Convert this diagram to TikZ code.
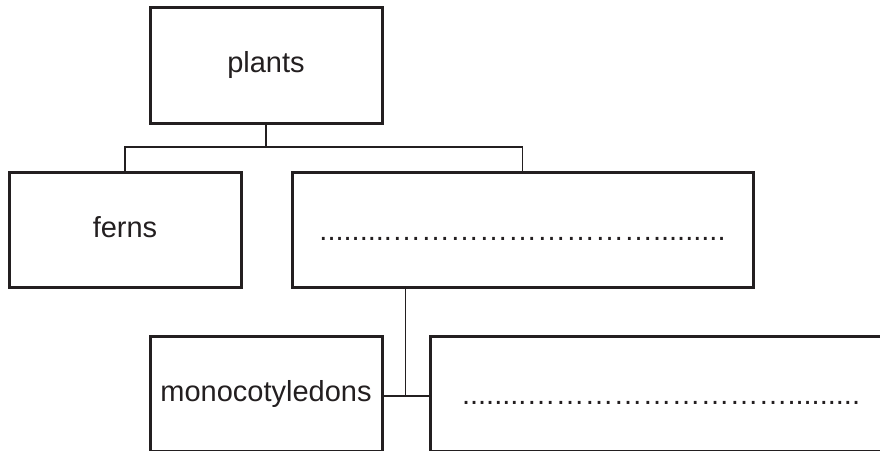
\documentclass[tikz,border=0pt]{standalone}
\usepackage{fontspec}
\setmainfont{Liberation Sans}
\definecolor{ink}{HTML}{231F20}
\begin{document}
\begin{tikzpicture}[x=1pt,y=-1pt,
  box/.style={draw=ink,line width=3pt,rectangle,inner sep=0pt,text=ink,
    font=\fontsize{29}{34}\selectfont,text height=21pt,text depth=6pt},
  dotbox/.style={box,text height=24pt,text depth=3pt},
  conn/.style={draw=ink,line width=1.3pt}]
\useasboundingbox (0,0) rectangle (880,450);
\clip (0,0) rectangle (880,450);
\fill[white] (0,0) rectangle (880,450);
\node[box,minimum width=232pt,minimum height=116pt] (plants) at (266,65) {plants};
\node[box,minimum width=232pt,minimum height=115pt] (ferns) at (125,229.5) {ferns};
\node[dotbox,minimum width=461pt,minimum height=115pt] (dot1) at (522.5,229.5) {.........……………………….........};
\node[box,minimum width=232pt,minimum height=115pt] (mono) at (266,394) {monocotyledons};
\node[dotbox,minimum width=461pt,minimum height=115pt] (dot2) at (661,393.5) {........……………………….........};
\coordinate (j1) at (266,147);
\coordinate (j2) at (405.7,396);
\draw[conn] (plants.south) -- (j1);
\draw[conn] (ferns.north) |- (j1) -| (dot1.north);
\draw[conn] (dot1.south -| j2) -- (j2);
\draw[conn] (mono.east |- j2) -- (dot2.west |- j2);
\end{tikzpicture}
\end{document}
